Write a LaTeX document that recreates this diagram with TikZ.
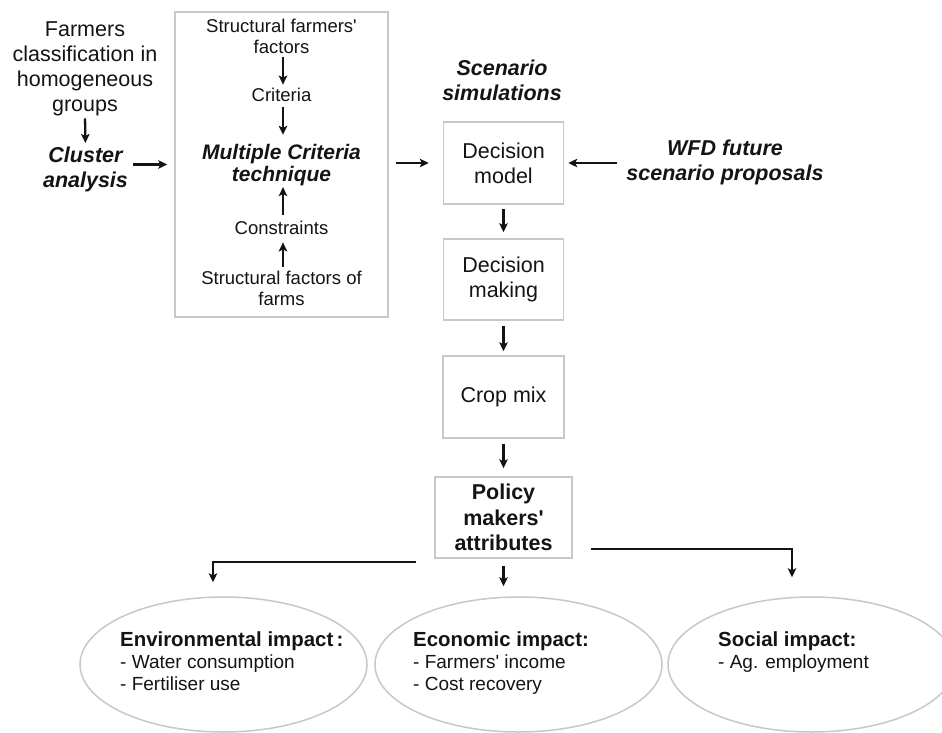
\documentclass[tikz,border=0pt]{standalone}
\usepackage{fontspec}
\setmainfont{Liberation Sans}
\usetikzlibrary{arrows.meta,calc,shapes.geometric}
\definecolor{boxgray}{RGB}{200,200,200}
\definecolor{inkcol}{RGB}{20,20,20}
\newcommand{\apo}{\textquotesingle}
\begin{document}
\begin{tikzpicture}[x=1pt,y=-1pt,
  txt/.style={inner sep=0pt, align=center, text=inkcol},
  big/.style={font=\fontsize{21.5}{25}\selectfont},
  bigbi/.style={font=\fontsize{21.5}{25}\selectfont\bfseries\itshape},
  small/.style={font=\fontsize{18.5}{21}\selectfont},
  mcbi/.style={font=\fontsize{21}{22}\selectfont\bfseries\itshape},
  boxnode/.style={draw=boxgray, line width=1.5pt, inner sep=0pt, align=center,
     text=inkcol, font=\fontsize{21.5}{25}\selectfont},
  ell/.style={draw=boxgray, line width=1.5pt, ellipse, inner sep=0pt,
     minimum width=287pt, minimum height=135pt},
  elltxt/.style={inner sep=0pt, align=left, anchor=west, text=inkcol,
     font=\fontsize{19}{22}\selectfont},
  arr/.style={draw=inkcol, line width=2.3pt, -{Stealth[length=9pt,width=8.5pt,inset=2pt]}}
]
\clip (0,0) rectangle (942,733);
\fill[white] (0,0) rectangle (942,733);

% left column
\node[txt,big] (farm) at (85,68.5) {Farmers\\classification in\\homogeneous\\groups};
\node[txt,bigbi] (clus) at (85.5,169) {Cluster\\analysis};

% multiple criteria box
\node[boxnode, minimum width=213pt, minimum height=305pt] (box1) at (281.5,164.5) {};
\node[txt,small] (sff) at (281.5,36) {Structural farmers\apo\\factors};
\node[txt,small] (crit) at (281.5,94.4) {Criteria};
\node[txt,mcbi] (mct) at (281.5,165.5) {Multiple Criteria\\technique};
\node[txt,small] (cons) at (281.5,227.4) {Constraints};
\node[txt,small] (sfo) at (281.5,288.4) {Structural factors of\\farms};

% centre column
\node[txt,bigbi] (scen) at (502,80) {Scenario\\simulations};
\node[boxnode, minimum width=120pt, minimum height=82pt] (dm) at (503.5,163) {Decision\\model};
\node[txt,bigbi] (wfd) at (725,162) {WFD future\\scenario proposals};
\node[boxnode, minimum width=120pt, minimum height=81pt] (dmk) at (503.5,279.5) {Decision\\making};
\node[boxnode, minimum width=121pt, minimum height=82pt] (crop) at (503.5,397) {Crop mix};
\node[boxnode, minimum width=137pt, minimum height=81pt, font=\fontsize{21.5}{25.5}\selectfont\bfseries] (pol) at (503.5,517.5) {Policy\\makers\apo\\attributes};

% impacts
\node[ell] (env) at (223.5,664.5) {};
\node[ell] (eco) at (518.5,664.5) {};
\node[ell] (soc) at (811.5,664.5) {};
\node[elltxt] (envt) at (120,661.5) {{\fontsize{20.4}{22}\selectfont\bfseries Environmental impact\,:}\\- Water consumption\\- Fertiliser use};
\node[elltxt] (ecot) at (413,663.5) {{\fontsize{20.4}{22}\selectfont\bfseries Economic impact:}\\- Farmers\apo\ income\\- Cost recovery};
\node[elltxt] (soct) at (718,652.5) {{\fontsize{20.4}{22}\selectfont\bfseries Social impact:}\\- Ag. employment};

% connectors
\draw[arr, shorten <=2.5pt, shorten >=3.3pt] (farm.south) -- (clus.north);
\draw[arr, shorten <=5pt, shorten >=7pt] (clus.east |- box1.west) -- (box1.west);
\draw[arr, shorten <=4pt, shorten >=2.8pt] ([xshift=1.5pt]sff.south) -- ([xshift=1.5pt]crit.north);
\draw[arr, shorten <=6pt, shorten >=9.7pt] ([xshift=1.5pt]crit.south) -- ([xshift=1.5pt]mct.north);
\draw[arr, shorten <=5.8pt, shorten >=0.6pt] ([xshift=1.5pt]cons.north) -- ([xshift=1.5pt]mct.south);
\draw[arr, shorten <=3.8pt, shorten >=8pt] ([xshift=1.5pt]sfo.north) -- ([xshift=1.5pt]cons.south);
\draw[arr, shorten <=7pt, shorten >=14pt] (box1.east |- dm.west) -- (dm.west);
\draw[arr, shorten <=9pt, shorten >=4pt] (wfd.west |- dm.east) -- (dm.east);
\draw[arr, shorten <=4pt, shorten >=6pt] (dm.south) -- (dmk.north);
\draw[arr, shorten <=5pt, shorten >=4pt] (dmk.south) -- (crop.north);
\draw[arr, shorten <=5pt, shorten >=8pt] (crop.south) -- (pol.north);
\draw[arr] ([shift={(-18,3)}]pol.south west) -| ([shift={(-10.5,-14)}]env.north);
\draw[arr, shorten <=7pt, shorten >=10pt] (pol.south) -- (pol.south |- eco.north);
\draw[arr] ([shift={(18,-10)}]pol.south east) -| ([shift={(-19.5,-19)}]soc.north);
\end{tikzpicture}
\end{document}
